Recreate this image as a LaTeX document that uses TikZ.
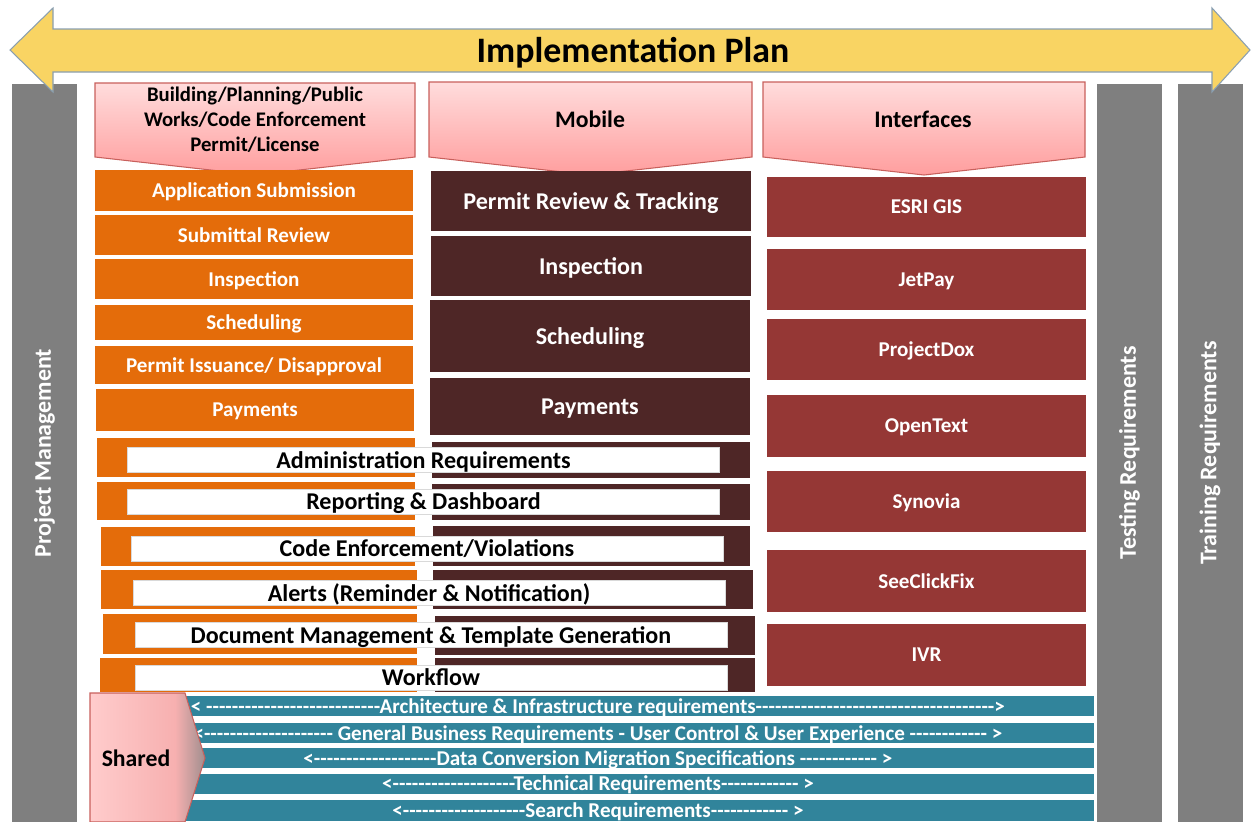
\documentclass[tikz,border=0pt]{standalone}
\usepackage{fontspec}
\setmainfont{Carlito}[Ligatures=TeXOff]
\pgfdeclarelayer{barlayer}
\pgfdeclarelayer{boxlayer}
\pgfsetlayers{barlayer,boxlayer,main}
\definecolor{planyellow}{HTML}{F9D463}
\definecolor{arrowline}{HTML}{8A9FB0}
\definecolor{graybar}{HTML}{7F7F7F}
\definecolor{orangefill}{HTML}{E46C0A}
\definecolor{mobilefill}{HTML}{4E2626}
\definecolor{interfacefill}{HTML}{953735}
\definecolor{tealfill}{HTML}{31849B}
\definecolor{pinktop}{HTML}{FFDCDC}
\definecolor{pinkbottom}{HTML}{FF9E9E}
\definecolor{pinkborder}{HTML}{C8605C}
\definecolor{sharedpink}{HTML}{FFCCCC}
\definecolor{sharedpink2}{HTML}{F7B0B0}
\definecolor{sharedgray}{HTML}{A08E8E}
\pgfdeclarehorizontalshading{sharedshade}{100bp}{color(0bp)=(sharedpink); color(25bp)=(sharedpink); color(62bp)=(sharedpink2); color(75bp)=(sharedgray); color(100bp)=(sharedgray)}
\tikzstyle{gray bar}=[fill=graybar, draw=none, rotate=90, minimum width=14.76cm, minimum height=1.30cm, inner sep=0pt, text=white, font=\bfseries\fontsize{13.6}{15}\selectfont]
\tikzstyle{plan arrow}=[fill=planyellow, draw=arrowline, line width=0.6pt]
\tikzstyle{plan text}=[font=\bfseries\fontsize{20.4}{24}\selectfont, text=black]
\tikzstyle{header shape}=[top color=pinktop, bottom color=pinkbottom, draw=pinkborder, line width=0.6pt]
\tikzstyle{header text}=[align=center, text=black, font=\bfseries\fontsize{11.8}{14.2}\selectfont]
\tikzstyle{orange box}=[fill=orangefill, text=white, inner sep=0pt, text depth=0pt, minimum width=6.36cm, font=\bfseries\fontsize{12}{14}\selectfont]
\tikzstyle{mobile box}=[fill=mobilefill, text=white, inner sep=0pt, text depth=0pt, minimum width=6.40cm, font=\bfseries\fontsize{13.7}{15}\selectfont]
\tikzstyle{interface box}=[fill=interfacefill, text=white, inner sep=0pt, text depth=0pt, minimum width=6.38cm, font=\bfseries\fontsize{12}{14}\selectfont]
\tikzstyle{orange strip}=[fill=orangefill, inner sep=0pt]
\tikzstyle{mobile strip}=[fill=mobilefill, inner sep=0pt]
\tikzstyle{white box}=[fill=white, draw=black!15, inner sep=0pt, text depth=0pt, minimum width=11.84cm, minimum height=0.50cm, text=black, font=\bfseries\fontsize{13.7}{15}\selectfont]
\tikzstyle{teal bar}=[fill=tealfill, text=white, inner sep=0pt, text depth=0pt, minimum width=19.84cm, minimum height=0.40cm, font=\bfseries\fontsize{12}{13}\selectfont]
\tikzstyle{shared shape}=[shading=sharedshade, draw=pinkborder, line width=0.6pt]
\tikzstyle{shared text}=[text=black, font=\bfseries\fontsize{13.5}{15}\selectfont]

\begin{document}
\begin{tikzpicture}[x=0.02cm, y=-0.02cm]
	\useasboundingbox (0,0) rectangle (1252,822);
	\begin{pgfonlayer}{barlayer}
		\node [style=gray bar] (0) at (44.5,453) {Project Management};
		\node [style=gray bar] (1) at (1129.5,453) {Testing Requirements};
		\node [style=gray bar] (2) at (1210,453) {Training Requirements};
		\node [style=teal bar] (3) at (598,706) {< ---------------------------Architecture \& Infrastructure requirements------------------------------------->};
		\node [style=teal bar] (4) at (598,733) {<-------------------- General Business Requirements - User Control \& User Experience ------------ >};
		\node [style=teal bar] (5) at (598,758) {<-------------------Data Conversion Migration Specifications ------------ >};
		\node [style=teal bar] (6) at (598,783.5) {<-------------------Technical Requirements------------ >};
		\node [style=teal bar, minimum height=0.42cm] (7) at (598,810.5) {<-------------------Search Requirements------------ >};
	\end{pgfonlayer}
	\begin{pgfonlayer}{boxlayer}
		\draw [style=plan arrow] (10,50) -- (53,8) -- (53,29) -- (1212,29) -- (1212,8) -- (1250,50) -- (1212,92) -- (1212,72) -- (53,72) -- (53,92) -- cycle;
		\shadedraw [style=header shape] (95,83) -- (415,83) -- (415,157) -- (255,175) -- (95,157) -- cycle;
		\shadedraw [style=header shape] (429,82) -- (752,82) -- (752,157) -- (590,175) -- (429,157) -- cycle;
		\shadedraw [style=header shape] (763,82) -- (1085,82) -- (1085,157) -- (924,175) -- (763,157) -- cycle;
		\shadedraw [style=shared shape] (90,693) -- (185,693) -- (205,758) -- (185,822) -- (90,822) -- cycle;
		\node [style=orange box, minimum height=0.82cm] (8) at (254,190.5) {Application Submission};
		\node [style=orange box, minimum height=0.80cm] (9) at (254,235) {Submittal Review};
		\node [style=orange box, minimum height=0.80cm] (10) at (254,279) {Inspection};
		\node [style=orange box, minimum height=0.70cm] (11) at (254,322.5) {Scheduling};
		\node [style=orange box, minimum height=0.76cm] (12) at (254,365) {Permit Issuance/ Disapproval};
		\node [style=orange box, minimum height=0.84cm] (13) at (255,410) {Payments};
		\node [style=mobile box, minimum height=1.20cm] (14) at (591,201) {Permit Review \& Tracking};
		\node [style=mobile box, minimum height=1.20cm] (15) at (591,266) {Inspection};
		\node [style=mobile box, minimum height=1.44cm] (16) at (590,336) {Scheduling};
		\node [style=mobile box, minimum height=1.14cm] (17) at (590,406.5) {Payments};
		\node [style=interface box, minimum height=1.20cm] (18) at (926.5,207) {ESRI GIS};
		\node [style=interface box, minimum height=1.22cm] (19) at (926.5,279.5) {JetPay};
		\node [style=interface box, minimum height=1.22cm] (20) at (926.5,349.5) {ProjectDox};
		\node [style=interface box, minimum height=1.24cm] (21) at (926.5,426) {OpenText};
		\node [style=interface box, minimum height=1.22cm] (22) at (926.5,501.5) {Synovia};
		\node [style=interface box, minimum height=1.24cm] (23) at (926.5,581) {SeeClickFix};
		\node [style=interface box, minimum height=1.24cm] (24) at (926.5,655) {IVR};
		\node [style=orange strip, minimum width=6.36cm, minimum height=0.78cm] (25) at (256,457.5) {};
		\node [style=mobile strip, minimum width=6.36cm, minimum height=0.72cm] (26) at (591,460) {};
		\node [style=orange strip, minimum width=6.36cm, minimum height=0.76cm] (27) at (256,501) {};
		\node [style=mobile strip, minimum width=6.36cm, minimum height=0.72cm] (28) at (591,502) {};
		\node [style=orange strip, minimum width=6.28cm, minimum height=0.78cm] (29) at (258,546.5) {};
		\node [style=mobile strip, minimum width=6.34cm, minimum height=0.80cm] (30) at (591.5,546) {};
		\node [style=orange strip, minimum width=6.32cm, minimum height=0.78cm] (31) at (259,589.5) {};
		\node [style=mobile strip, minimum width=6.40cm, minimum height=0.78cm] (32) at (593,589.5) {};
		\node [style=orange strip, minimum width=6.28cm, minimum height=0.80cm] (33) at (260,634) {};
		\node [style=mobile strip, minimum width=6.40cm, minimum height=0.78cm] (34) at (595,635.5) {};
		\node [style=orange strip, minimum width=6.34cm, minimum height=0.68cm] (35) at (258.5,675) {};
		\node [style=mobile strip, minimum width=6.40cm, minimum height=0.68cm] (36) at (595,675) {};
	\end{pgfonlayer}
	\node [style=plan text] (37) at (633,53) {Implementation Plan};
	\node [style=header text] (38) at (255,120) {Building/Planning/Public\\Works/Code Enforcement\\Permit/License};
	\node [style=header text, font=\bfseries\fontsize{13.5}{15}\selectfont] (39) at (590,119) {Mobile};
	\node [style=header text, font=\bfseries\fontsize{13.5}{15}\selectfont] (40) at (923,119) {Interfaces};
	\node [style=white box] (41) at (423.5,460) {Administration Requirements};
	\node [style=white box] (42) at (423.5,501.5) {Reporting \& Dashboard};
	\node [style=white box] (43) at (427,548.5) {Code Enforcement/Violations};
	\node [style=white box] (44) at (429,592.5) {Alerts (Reminder \& Notification)};
	\node [style=white box] (45) at (431,635) {Document Management \& Template Generation};
	\node [style=white box] (46) at (431,677.5) {Workflow};
	\node [style=shared text] (47) at (136,758) {Shared};
\end{tikzpicture}
\end{document}
